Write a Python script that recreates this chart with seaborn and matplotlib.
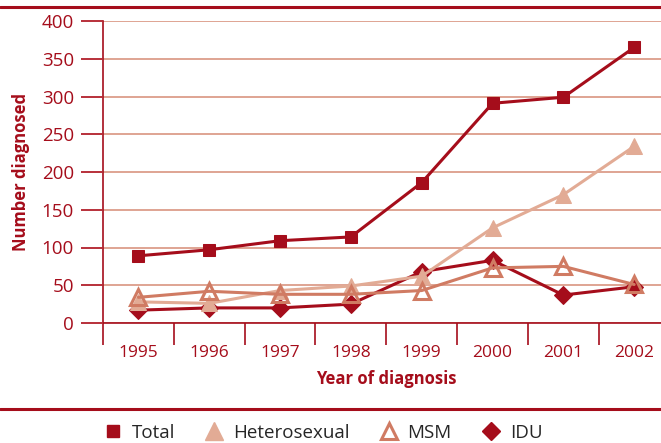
import pandas as pd
import numpy as np
import matplotlib
matplotlib.use("Agg")
import matplotlib.pyplot as plt
from matplotlib.lines import Line2D
from matplotlib.ticker import MultipleLocator, FixedLocator
import seaborn as sns

# data
years = [1995, 1996, 1997, 1998, 1999, 2000, 2001, 2002]
total = [89, 97, 109, 114, 186, 291, 299, 365]
heterosexual = [28, 26, 43, 49, 62, 126, 170, 234]
msm = [34, 42, 38, 38, 43, 73, 75, 51]
idu = [17, 20, 20, 25, 68, 83, 37, 48]

DARK = "#a50d1b"
LIGHT = "#e2ab95"
MID = "#d07b63"
GRID = "#d99580"

sns.set_style("white")
plt.rcParams["font.family"] = ["Open Sans", "DejaVu Sans"]
plt.rcParams["ytick.left"] = True
plt.rcParams["xtick.bottom"] = True

fig = plt.figure(figsize=(6.61, 4.43), dpi=100)
ax_w = 566.6 / 661
ax = fig.add_axes([103 / 661, 120 / 443, ax_w, 302 / 443])

df = pd.DataFrame({"year": years, "Total": total, "Heterosexual": heterosexual,
                   "MSM": msm, "IDU": idu})

sns.lineplot(data=df, x="year", y="Total", ax=ax, color=DARK, lw=2.2,
             marker="s", markersize=9, markeredgecolor=DARK, zorder=5)
sns.lineplot(data=df, x="year", y="IDU", ax=ax, color=DARK, lw=2.2,
             marker="D", markersize=9, markeredgecolor=DARK, zorder=6)
sns.lineplot(data=df, x="year", y="Heterosexual", ax=ax, color=LIGHT, lw=2.2,
             marker="^", markersize=12, markeredgecolor=LIGHT, zorder=7)
sns.lineplot(data=df, x="year", y="MSM", ax=ax, color=MID, lw=2.2,
             marker="^", markersize=11, markerfacecolor="none",
             markeredgecolor=MID, markeredgewidth=2.2, zorder=8)

ax.set_xlim(1994.5, 2002.5)
ax.set_ylim(0, 400)
ax.yaxis.set_major_locator(MultipleLocator(50))
ax.set_xticks(years)
ax.set_xticklabels([str(y) for y in years])
ax.xaxis.set_minor_locator(FixedLocator(np.arange(1994.5, 2003, 1)))

ax.grid(axis="y", color=GRID, lw=1.2)
ax.set_axisbelow(True)
for s in ["top", "right"]:
    ax.spines[s].set_visible(False)
for s in ["left", "bottom"]:
    ax.spines[s].set_color(DARK)
    ax.spines[s].set_linewidth(1.2)

# tick lengths are in points (22 px ~ 16 pt)
ax.tick_params(axis="y", which="major", left=True, direction="out", length=16,
               width=1.2, color="#b8303a", labelsize=13.5, labelcolor=DARK, pad=5)
ax.tick_params(axis="x", which="major", bottom=True, length=0, labelsize=12.5,
               labelcolor=DARK, pad=16)
ax.tick_params(axis="x", which="minor", bottom=True, direction="out", length=16,
               width=1.2, color=DARK)

# y tick marks stick out to the left of the axis, drawn explicitly
yt = [t for t in ax.get_yticks() if 0 <= t <= 400]
ax.hlines(yt, -22 / 566.6, 0, transform=ax.get_yaxis_transform(),
          colors="#b8303a", lw=1.2, clip_on=False, zorder=3)

ax.set_xlabel("Year of diagnosis", fontsize=12, fontweight="bold", color=DARK,
              labelpad=6)
ax.set_ylabel("Number diagnosed", fontsize=12, fontweight="bold", color=DARK)
ax.yaxis.set_label_coords(-73 / 566.6, 0.5)

# horizontal rules at the top and above the legend
fig.add_artist(Line2D([0, 1], [1 - 7 / 443, 1 - 7 / 443], color=DARK, lw=2.2,
                      transform=fig.transFigure))
fig.add_artist(Line2D([0, 1], [1 - 409 / 443, 1 - 409 / 443], color=DARK, lw=2.2,
                      transform=fig.transFigure))

handles = [
    Line2D([], [], ls="none", marker="s", markersize=9, color=DARK),
    Line2D([], [], ls="none", marker="^", markersize=13, color=LIGHT),
    Line2D([], [], ls="none", marker="^", markersize=11, markerfacecolor="none",
           markeredgecolor=MID, markeredgewidth=2.2),
    Line2D([], [], ls="none", marker="D", markersize=9, color=DARK),
]
fig.legend(handles, ["Total", "Heterosexual", "MSM", "IDU"], loc="center",
           bbox_to_anchor=(322 / 661, 1 - 433 / 443), ncol=4, frameon=False,
           fontsize=13.5, handletextpad=0.4, columnspacing=1.5, handlelength=1.2)

fig.savefig("out.png", dpi=100)
